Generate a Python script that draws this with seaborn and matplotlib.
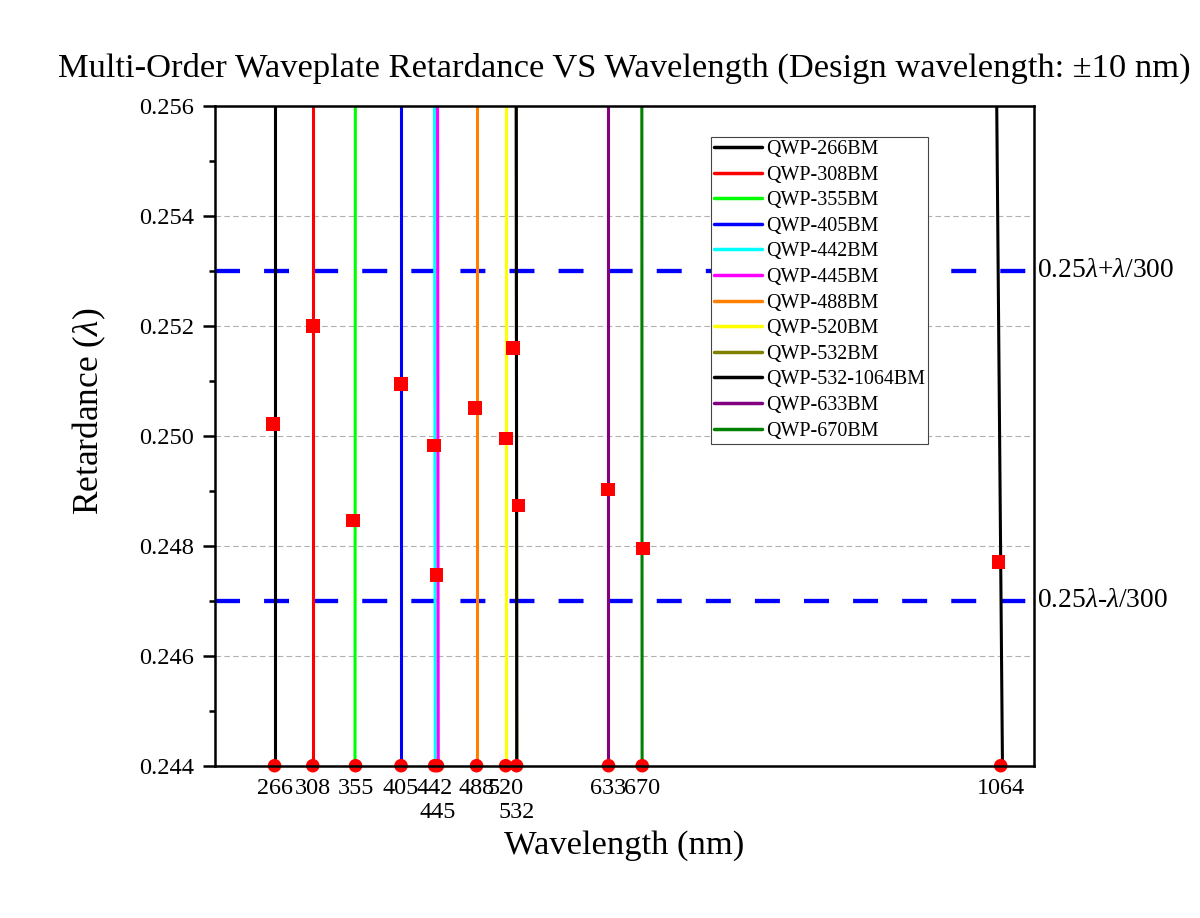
import numpy as np
import pandas as pd
import matplotlib
matplotlib.use("Agg")
import matplotlib.pyplot as plt
from matplotlib.lines import Line2D
from matplotlib.ticker import MultipleLocator, FormatStrFormatter
import seaborn as sns

# ---------------- data ----------------
line_labels = ["QWP-266BM", "QWP-308BM", "QWP-355BM", "QWP-405BM", "QWP-442BM",
               "QWP-445BM", "QWP-488BM", "QWP-520BM", "QWP-532BM",
               "QWP-532-1064BM", "QWP-633BM", "QWP-670BM"]
line_colors = ["#000000", "#FF0000", "#00FF00", "#0000FF", "#00FFFF", "#FF00FF",
               "#FF8000", "#FFFF00", "#808000", "#000000", "#800080", "#008000"]

# retardance curves (nearly vertical): wavelength at top (0.256) and bottom (0.244)
seg_labels = ["QWP-266BM", "QWP-308BM", "QWP-355BM", "QWP-405BM", "QWP-442BM",
              "QWP-445BM", "QWP-488BM", "QWP-520BM", "QWP-532BM",
              "QWP-532-1064BM", "QWP-532-1064BM", "QWP-633BM", "QWP-670BM"]
seg_nm_top = [266.0, 308.1, 354.8, 404.7, 441.8, 445.1, 488.0, 519.8, 531.6,
              531.6, 1059.6, 632.3, 669.6]
seg_nm_bottom = [266.0, 308.1, 354.4, 404.7, 442.6, 445.9, 488.0, 519.8, 532.2,
                 532.2, 1065.9, 632.3, 669.9]
seg_ret_top = 0.256
seg_ret_bottom = 0.244

# measured retardance points (red squares)
meas_nm = [264.1, 308.1, 352.0, 405.2, 441.1, 444.0, 486.1, 520.6, 527.9,
           534.1, 632.3, 670.7, 1061.3]
meas_ret = [0.25021, 0.25199, 0.24846, 0.25094, 0.24982, 0.24747, 0.25050,
            0.24995, 0.25159, 0.24873, 0.24902, 0.24795, 0.24770]

# design wavelengths (red circles on the axis) and tick labels
design_nm = [266, 308, 355, 405, 442, 445, 488, 520, 532, 633, 670, 1064]
tick_labels = ["266", "308", "355", "405", "442", "\n445", "488", "520",
               "\n532", "633", "670", "1064"]

# tolerance lines
tol_upper = 0.253
tol_lower = 0.247
tol_upper_text = "0.25$\\lambda$+$\\lambda$/300"
tol_lower_text = "0.25$\\lambda$-$\\lambda$/300"

title = "Multi-Order Waveplate Retardance VS Wavelength (Design wavelength: \u00b110 nm)"

# ---------------- style ----------------
sns.set_style("white")
plt.rcParams['font.family'] = ['Liberation Serif', 'DejaVu Serif']
plt.rcParams['mathtext.fontset'] = 'custom'
plt.rcParams['mathtext.rm'] = 'Liberation Serif'
plt.rcParams['mathtext.it'] = 'Liberation Serif:italic'
plt.rcParams['axes.unicode_minus'] = False
for k in ['text.color', 'axes.labelcolor', 'xtick.color', 'ytick.color']:
    plt.rcParams[k] = 'black'

fig = plt.figure(figsize=(12, 9.18), dpi=100)
ax = fig.add_axes([214.5 / 1200, 1 - 765.7 / 918, 819 / 1200, 660 / 918])

# tolerance dashed lines
for yv in (tol_upper, tol_lower):
    ax.axhline(yv, color="#0000FF", lw=3.1, dashes=(5.8, 5.6), zorder=2)

# retardance curves
rows = []
for i, (lab, t, b) in enumerate(zip(seg_labels, seg_nm_top, seg_nm_bottom)):
    rows.append(dict(label=lab, seg=i, nm=t, ret=seg_ret_top))
    rows.append(dict(label=lab, seg=i, nm=b, ret=seg_ret_bottom))
df_lines = pd.DataFrame(rows)
palette = dict(zip(line_labels, line_colors))
for i in range(len(seg_labels)):
    sub = df_lines[df_lines.seg == i]
    sns.lineplot(data=sub, x="nm", y="ret", color=palette[seg_labels[i]],
                 estimator=None, sort=False, lw=2.2, ax=ax, legend=False, zorder=3)

# measured points
sns.scatterplot(x=meas_nm, y=meas_ret, marker="s", s=95, color="#FF0000",
                edgecolor="none", linewidth=0, ax=ax, zorder=6, legend=False)
# design wavelength markers
ax.scatter(design_nm, [seg_ret_bottom] * len(design_nm), marker="o", s=95,
           color="#FF0000", edgecolor="none", zorder=7, clip_on=False)

# axes
ax.set_xlim(200, 1100)
ax.set_ylim(0.244, 0.256)
ax.yaxis.set_major_locator(MultipleLocator(0.002))
ax.yaxis.set_minor_locator(MultipleLocator(0.001))
ax.yaxis.set_major_formatter(FormatStrFormatter("%.3f"))
ax.set_xticks(design_nm)
ax.set_xticklabels(tick_labels, linespacing=1.16)
ax.yaxis.grid(True, which="major", linestyle=(0, (5, 3)), color="#b0b0b0", lw=0.8)
ax.set_axisbelow(True)
for sp in ax.spines.values():
    sp.set_visible(True)
    sp.set_color("black")
    sp.set_linewidth(1.8)
    sp.set_zorder(8)
ax.tick_params(axis="y", which="major", direction="out", length=9, width=1.8,
               labelsize=17.6, pad=6, left=True, right=False)
ax.tick_params(axis="y", which="minor", direction="out", length=4.5, width=1.8,
               left=True, right=False)
ax.tick_params(axis="x", which="both", length=0, pad=9, labelsize=17.4,
               bottom=True, top=False)

ax.set_xlabel("Wavelength (nm)", fontsize=24.8, labelpad=5.5)
ax.set_ylabel("Retardance ($\\lambda$)", fontsize=25.5)
ax.yaxis.set_label_coords(-0.130, 0.5367)
ax.set_title(title, fontsize=24.8, pad=21)

ytr = ax.get_yaxis_transform()
ax.text(1.004, tol_upper, tol_upper_text, transform=ytr, ha="left", va="center",
        fontsize=19.8)
ax.text(1.004, tol_lower, tol_lower_text, transform=ytr, ha="left", va="center",
        fontsize=19.8)

handles = [Line2D([0], [0], color=c, lw=2.5) for c in line_colors]
leg = ax.legend(handles, line_labels, loc="upper left", bbox_to_anchor=(0.606, 0.9526),
                borderaxespad=0, frameon=True, fancybox=False, framealpha=1,
                edgecolor="#444444", fontsize=14.4, labelspacing=0.33,
                handlelength=2.4, handletextpad=0.2, borderpad=0.15)
leg.get_frame().set_linewidth(0.8)
leg.set_zorder(9)

fig.savefig("out.png", dpi=100, facecolor="white")
